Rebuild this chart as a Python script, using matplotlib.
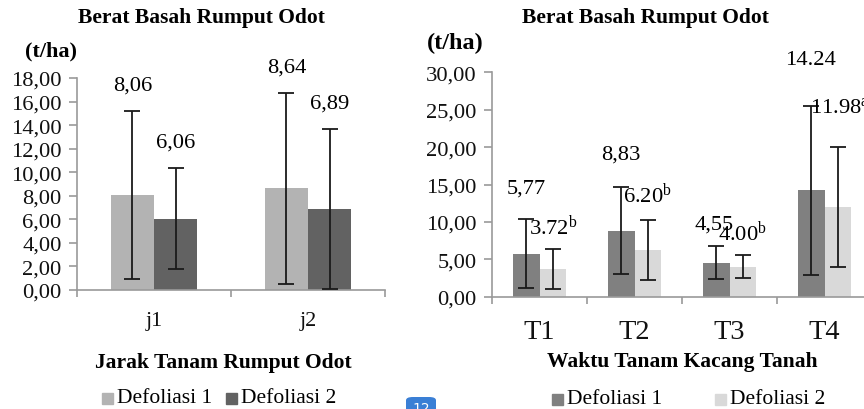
import matplotlib
matplotlib.use("Agg")
import matplotlib.pyplot as plt
import numpy as np
from matplotlib.patches import FancyBboxPatch, Rectangle

plt.rcParams['font.family'] = ['Liberation Serif', 'DejaVu Serif']
plt.rcParams['mathtext.fontset'] = 'custom'
plt.rcParams['mathtext.rm'] = 'Liberation Serif'
plt.rcParams['mathtext.it'] = 'Liberation Serif:italic'

# ---------------- data ----------------
title = "Berat Basah Rumput Odot"
unit = "(t/ha)"
series_names = ["Defoliasi 1", "Defoliasi 2"]

left_categories = ["j1", "j2"]
left_d1 = [8.06, 8.64]
left_d2 = [6.06, 6.89]
left_d1_sd = [7.10, 8.10]
left_d2_sd = [4.30, 6.80]
left_d1_labels = ["8,06", "8,64"]
left_d2_labels = ["6,06", "6,89"]
left_xlabel = "Jarak Tanam Rumput Odot"

right_categories = ["T1", "T2", "T3", "T4"]
right_d1 = [5.77, 8.83, 4.55, 14.24]
right_d2 = [3.72, 6.20, 4.00, 11.98]
right_d1_sd = [4.65, 5.85, 2.20, 11.30]
right_d2_sd = [2.70, 4.00, 1.55, 8.07]
right_d1_labels = ["5,77", "8,83", "4,55", "14.24"]
right_d2_labels = [r"3.72$^{\mathrm{b}}$", r"6.20$^{\mathrm{b}}$", r"4.00$^{\mathrm{b}}$", r"11.98$^{\mathrm{a}}$"]
right_xlabel = "Waktu Tanam Kacang Tanah"

# ---------------- layout / style ----------------
W, H = 864, 410
fig = plt.figure(figsize=(W / 100, H / 100), dpi=100)

def fx(px):
    return px / W

def fy(py):
    return 1 - py / H

AX_COL = "#9a9a9a"
ERR_COL = "#1a1a1a"
BW = 0.28
TICK_FS = 16.2
VAL_FS = 16.2
TITLE_FS = 15.5

def style_axes(ax, cats, ymax, ystep, tick_fs, cat_fs, cat_pad):
    n = len(cats)
    ax.set_xlim(-0.5, n - 0.5)
    ax.set_ylim(0, ymax)
    for s in ["top", "right"]:
        ax.spines[s].set_visible(False)
    for s in ["left", "bottom"]:
        ax.spines[s].set_color(AX_COL)
        ax.spines[s].set_linewidth(1.2)
    ticks = np.arange(0, ymax + 0.001, ystep)
    ax.set_yticks(ticks)
    ax.set_yticklabels([f"{v:.2f}".replace(".", ",") for v in ticks], fontsize=tick_fs)
    ax.tick_params(axis="y", direction="out", length=6, width=1.2, color=AX_COL, pad=5, labelcolor="#111111")
    ax.set_xticks(np.arange(-0.5, n, 1.0))
    ax.set_xticklabels([])
    ax.tick_params(axis="x", which="major", direction="out", length=5, width=1.2, color=AX_COL)
    ax.set_xticks(np.arange(n), minor=True)
    ax.set_xticklabels(cats, minor=True, fontsize=cat_fs, color="#111111")
    ax.tick_params(axis="x", which="minor", length=0, pad=cat_pad)
    ax.patch.set_visible(False)

def legend_item(xsq, ysq, color, label, size=11):
    fig.patches.append(Rectangle((fx(xsq), fy(ysq + size / 2)), size / W, size / H, color=color,
                                 transform=fig.transFigure, figure=fig))
    fig.text(fx(xsq + size + 4), fy(ysq), label, ha="left", va="center", fontsize=15.5)

# ---------------- left chart ----------------
axL = fig.add_axes([fx(77), fy(291), fx(385) - fx(77), fy(79) - fy(291)])
xL = np.arange(len(left_categories))
cL1, cL2 = "#b3b3b3", "#626262"
axL.bar(xL - BW / 2, left_d1, BW, color=cL1, zorder=2)
axL.bar(xL + BW / 2, left_d2, BW, color=cL2, zorder=2)
for xs, ys, es in [(xL - BW / 2, left_d1, left_d1_sd), (xL + BW / 2, left_d2, left_d2_sd)]:
    axL.errorbar(xs, ys, yerr=es, fmt="none", ecolor=ERR_COL, elinewidth=1.3, capsize=5.5,
                 capthick=1.3, zorder=3)
style_axes(axL, left_categories, 18, 2, TICK_FS, 16, 15)
for i in range(len(left_categories)):
    axL.annotate(left_d1_labels[i], (xL[i] - BW / 2, left_d1[i] + left_d1_sd[i]), xytext=(0, 26),
                 textcoords="offset pixels", ha="center", va="center", fontsize=VAL_FS, annotation_clip=False)
    axL.annotate(left_d2_labels[i], (xL[i] + BW / 2, left_d2[i] + left_d2_sd[i]), xytext=(0, 26),
                 textcoords="offset pixels", ha="center", va="center", fontsize=VAL_FS, annotation_clip=False)

fig.text(fx(201), fy(18), title, ha="center", va="center", fontsize=TITLE_FS, fontweight="bold")
fig.text(fx(25), fy(51), unit, ha="left", va="center", fontsize=16, fontweight="bold")
fig.text(fx(223), fy(363), left_xlabel, ha="center", va="center", fontsize=TITLE_FS, fontweight="bold")

legend_item(102, 399, cL1, series_names[0])
legend_item(226, 399, cL2, series_names[1])

# ---------------- right chart ----------------
axR = fig.add_axes([fx(492), fy(297.7), fx(872) - fx(492), fy(73.3) - fy(297.7)])
xR = np.arange(len(right_categories))
cR1, cR2 = "#808080", "#d9d9d9"
axR.bar(xR - BW / 2, right_d1, BW, color=cR1, zorder=2)
axR.bar(xR + BW / 2, right_d2, BW, color=cR2, zorder=2)
for xs, ys, es in [(xR - BW / 2, right_d1, right_d1_sd), (xR + BW / 2, right_d2, right_d2_sd)]:
    axR.errorbar(xs, ys, yerr=es, fmt="none", ecolor=ERR_COL, elinewidth=1.3, capsize=5.5,
                 capthick=1.3, zorder=3)
style_axes(axR, right_categories, 30, 5, TICK_FS, 20.5, 16)

# label offsets (pixels) from error-bar tops
d1_off = [(0, 31), (0, 33), (-2, 22), (-1, 46)]
d2_off = [(0, 22), (0, 26), (0, 23), (2, 40)]
for i in range(len(right_categories)):
    axR.annotate(right_d1_labels[i], (xR[i] - BW / 2, right_d1[i] + right_d1_sd[i]), xytext=d1_off[i],
                 textcoords="offset pixels", ha="center", va="center", fontsize=VAL_FS, annotation_clip=False)
    axR.annotate(right_d2_labels[i], (xR[i] + BW / 2, right_d2[i] + right_d2_sd[i]), xytext=d2_off[i],
                 textcoords="offset pixels", ha="center", va="center", fontsize=VAL_FS, annotation_clip=False)

fig.text(fx(645), fy(18), title, ha="center", va="center", fontsize=TITLE_FS, fontweight="bold")
fig.text(fx(427), fy(43), unit, ha="left", va="center", fontsize=17.5, fontweight="bold")
fig.text(fx(682), fy(362), right_xlabel, ha="center", va="center", fontsize=TITLE_FS, fontweight="bold")

legend_item(552, 400, cR1, series_names[0])
legend_item(715, 400, cR2, series_names[1])

# page badge
badge = FancyBboxPatch((fx(406), fy(416)), 30 / W, 18 / H, boxstyle="round,pad=0,rounding_size=0.008",
                       facecolor="#3a7fd5", edgecolor="none", transform=fig.transFigure, figure=fig)
fig.patches.append(badge)
fig.text(fx(421), fy(409), "12", ha="center", va="center", fontsize=10, color="white",
         family="DejaVu Sans")

fig.savefig("out.png", dpi=100)
